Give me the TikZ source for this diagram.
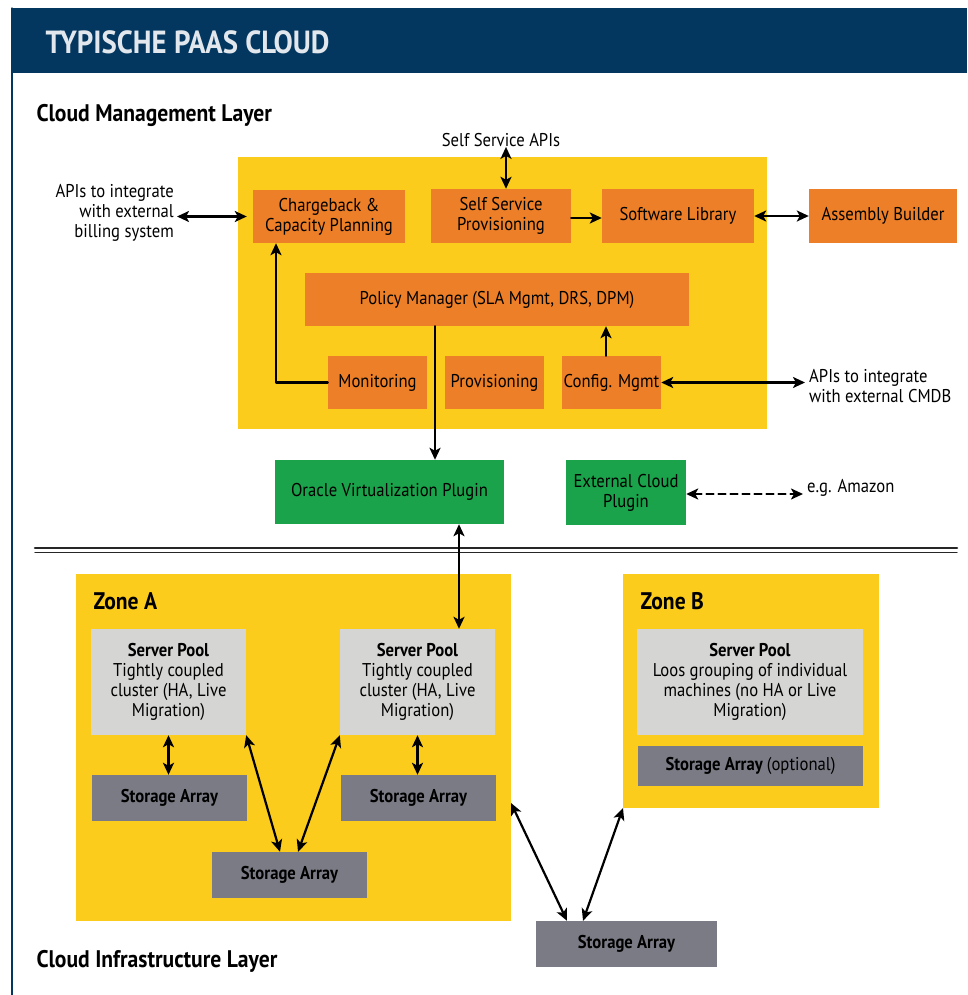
\documentclass[tikz,border=0pt]{standalone}
\usepackage{fontspec}
\setmainfont{PT Sans}[FakeStretch=0.9]
\usetikzlibrary{arrows.meta}
\definecolor{navy}{HTML}{03375F}
\definecolor{sun}{HTML}{FBCC1C}
\definecolor{tang}{HTML}{EC7F27}
\definecolor{leaf}{HTML}{1AA34A}
\definecolor{fog}{HTML}{D5D5D3}
\definecolor{slate}{HTML}{7A7B85}
\begin{document}
\begin{tikzpicture}[x=1pt,y=-1pt,line cap=round,line join=round,
    font=\fontsize{18.5}{20}\selectfont,
    box/.style={inner sep=0pt,align=center,text=black},
    orangebox/.style={box,fill=tang},
    greenbox/.style={box,fill=leaf},
    poolbox/.style={box,fill=fog,minimum width=155pt,minimum height=106pt},
    arraybox/.style={box,fill=slate,minimum height=46pt,font=\fontsize{18.5}{20}\selectfont\bfseries},
    zone/.style={fill=sun},
    link/.style={line width=2.2pt,-{Stealth[length=12pt,width=11pt,inset=3pt]}},
    dlink/.style={line width=2.2pt,{Stealth[length=12pt,width=11pt,inset=3pt]}-{Stealth[length=12pt,width=11pt,inset=3pt]}}]
  \useasboundingbox (0,0) rectangle (967,995);

  % frame and heading
  \fill[navy] (12,8) rectangle (967,73);
  \draw[navy,line width=1.2pt] (12,8) -- (12,995);
  \node[anchor=west,text=white!88!navy,font=\fontsize{32}{34}\selectfont\bfseries] (title) at (42,42) {TYPISCHE PAAS CLOUD};
  \node[anchor=west,font=\fontsize{24}{26}\selectfont\bfseries] (mlayer) at (33,115) {Cloud Management Layer};
  \node[anchor=west,font=\fontsize{24}{26}\selectfont\bfseries] (ilayer) at (33,961) {Cloud Infrastructure Layer};

  % management layer
  \fill[zone] (238,157) rectangle (767,429);
  \node[orangebox,minimum width=152pt,minimum height=53pt] (charge) at (329,216.5) {Chargeback \&\\Capacity Planning};
  \node[orangebox,minimum width=140pt,minimum height=54pt] (selfprov) at (501,216) {Self Service\\Provisioning};
  \node[orangebox,minimum width=152pt,minimum height=54pt] (swlib) at (678,216) {Software Library};
  \node[orangebox,minimum width=148pt,minimum height=54pt] (asm) at (883,216) {Assembly Builder};
  \node[orangebox,minimum width=384pt,minimum height=53pt] (policy) at (497,299.5) {Policy Manager (SLA Mgmt, DRS, DPM)};
  \node[orangebox,minimum width=99pt,minimum height=53pt] (monitor) at (377.5,382.5) {Monitoring};
  \node[orangebox,minimum width=99pt,minimum height=53pt] (provis) at (494.5,382.5) {Provisioning};
  \node[orangebox,minimum width=99pt,minimum height=53pt] (config) at (611.5,382.5) {Config. Mgmt};

  \node[box] (selfapi) at (501,140) {Self Service APIs};
  \node[box,anchor=east,align=right] (billing) at (174,213) {APIs to integrate\\with external\\billing system};
  \node[box,anchor=west,align=left] (cmdb) at (809,386) {APIs to integrate\\with external CMDB};

  \draw[dlink] ([xshift=5pt]selfapi.south) -- ([xshift=5pt]selfprov.north);
  \draw[dlink,shorten <=3pt,shorten >=6pt] (billing.east |- charge.west) -- (charge.west);
  \draw[link] ([yshift=-2pt]selfprov.east) -- ([yshift=-2pt]swlib.west);
  \draw[dlink] (swlib.east) -- (asm.west);
  \draw[link] (monitor.west) -| ([xshift=-53pt]charge.south);
  \draw[link] ([xshift=-5.5pt]config.north) -- ([xshift=-5.5pt]config.north |- policy.south);
  \draw[dlink,shorten >=4pt] (config.east) -- (config.east -| cmdb.west);

  % plugins
  \node[greenbox,minimum width=229pt,minimum height=64pt] (oracle) at (389.5,492) {Oracle Virtualization Plugin};
  \node[greenbox,minimum width=120pt,minimum height=65pt] (extcloud) at (626,492.5) {External Cloud\\Plugin};
  \node[box,anchor=west] (amazon) at (807,488) {e.g. Amazon};
  \draw[link] ([xshift=-62pt]policy.south) -- ([xshift=-62pt]policy.south |- oracle.north);
  \draw[dlink,dash pattern=on 7pt off 5pt,shorten >=4pt] ([yshift=-1.5pt]extcloud.east) -- ([yshift=-1.5pt]extcloud.east -| amazon.west);

  % layer divider
  \draw[black!85,line width=2.6pt] (35,548) -- (957,548);
  \draw[black!85,line width=1.1pt] (35,552.5) -- (957,552.5);

  % zone A
  \fill[zone] (76,574) rectangle (511,921);
  \coordinate (zoneAeast) at (511,803);
  \node[anchor=west,font=\fontsize{24}{26}\selectfont\bfseries] (zoneA) at (90,601) {Zone A};
  \node[poolbox] (pool1) at (168.5,682) {\textbf{Server Pool}\\Tightly coupled\\cluster (HA, Live\\Migration)};
  \node[poolbox] (pool2) at (417.5,682) {\textbf{Server Pool}\\Tightly coupled\\cluster (HA, Live\\Migration)};
  \node[arraybox,minimum width=155pt] (array1) at (169.5,798) {Storage Array};
  \node[arraybox,minimum width=155pt] (array2) at (418.5,798) {Storage Array};
  \node[arraybox,minimum width=155pt] (arrayC) at (289.5,875) {Storage Array};

  % zone B
  \fill[zone] (623,574) rectangle (879,808);
  \coordinate (zoneBcorner) at (623,808);
  \node[anchor=west,font=\fontsize{24}{26}\selectfont\bfseries] (zoneB) at (637,601) {Zone B};
  \node[poolbox,minimum width=226pt] (poolB) at (750,682) {\textbf{Server Pool}\\Loos grouping of individual\\machines (no HA or Live\\Migration)};
  \node[arraybox,minimum width=225pt,minimum height=40pt] (arrayB) at (750.5,766) {Storage Array \mdseries(optional)};

  \node[arraybox,minimum width=181pt] (arrayD) at (626.5,944) {Storage Array};

  % storage links
  \draw[dlink] ([xshift=41.5pt]pool2.north |- oracle.south) -- ([xshift=41.5pt]pool2.north);
  \draw[dlink] (pool1.south) -- (pool1.south |- array1.north);
  \draw[dlink] (pool2.south) -- (pool2.south |- array2.north);
  \draw[dlink] (pool1.south east) -- ([xshift=-9.5pt]arrayC.north);
  \draw[dlink] (pool2.south west) -- ([xshift=8.5pt]arrayC.north);
  \draw[dlink] (zoneAeast) -- ([xshift=-59.5pt]arrayD.north);
  \draw[dlink] (zoneBcorner) -- ([xshift=-43.5pt]arrayD.north);
\end{tikzpicture}
\end{document}
